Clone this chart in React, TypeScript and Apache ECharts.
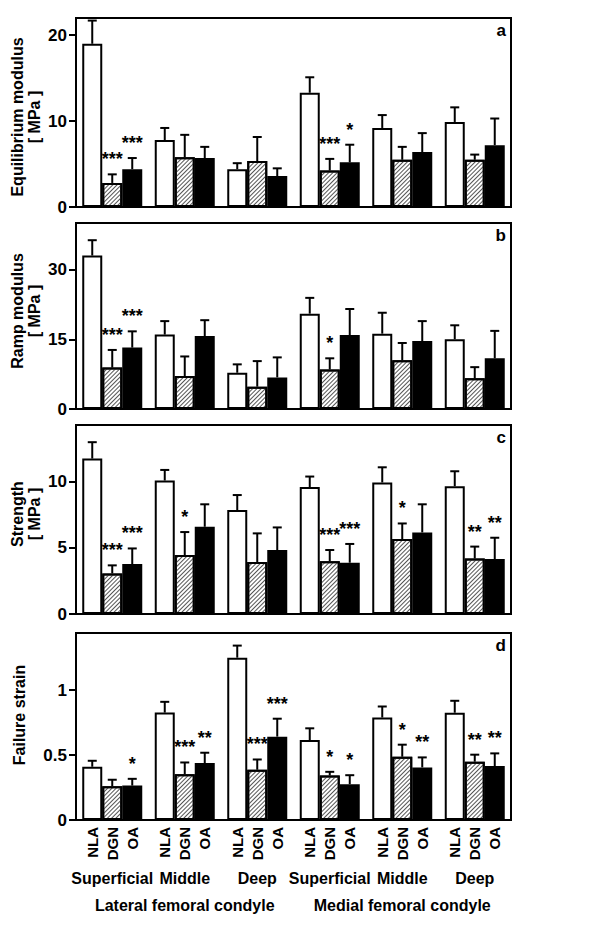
import React, { useEffect, useRef } from 'react';
import * as echarts from 'echarts';

// ---------- data ----------
const zones = ['Superficial', 'Middle', 'Deep', 'Superficial', 'Middle', 'Deep'];
const condyles = ['Lateral femoral condyle', 'Medial femoral condyle'];
const groupNames = ['NLA', 'DGN', 'OA'];

// a: Equilibrium modulus [MPa]
const eqNLA = [19.0, 7.8, 4.4, 13.3, 9.2, 9.9];
const eqNLASd = [2.7, 1.4, 0.7, 1.8, 1.5, 1.7];
const eqDGN = [2.8, 5.8, 5.35, 4.25, 5.5, 5.5];
const eqDGNSd = [1.0, 2.6, 2.8, 1.35, 1.5, 0.6];
const eqOA = [4.4, 5.7, 3.6, 5.2, 6.4, 7.2];
const eqOASd = [1.3, 1.3, 0.9, 2.05, 2.2, 3.1];
const eqDGNStars = ['***', '', '', '***', '', ''];
const eqOAStars = ['***', '', '', '*', '', ''];

// b: Ramp modulus [MPa]
const rampNLA = [33.0, 16.0, 7.8, 20.5, 16.2, 15.0];
const rampNLASd = [3.3, 2.9, 1.8, 3.4, 4.5, 3.0];
const rampDGN = [8.9, 7.1, 4.8, 8.5, 10.5, 6.6];
const rampDGNSd = [3.8, 4.2, 5.5, 2.4, 3.7, 2.4];
const rampOA = [13.2, 15.7, 6.8, 15.9, 14.6, 10.9];
const rampOASd = [3.5, 3.4, 4.3, 5.6, 4.3, 5.9];
const rampDGNStars = ['***', '', '', '*', '', ''];
const rampOAStars = ['***', '', '', '', '', ''];

// c: Strength [MPa]
const strNLA = [11.76, 10.1, 7.86, 9.6, 9.95, 9.67];
const strNLASd = [1.24, 0.8, 1.14, 0.8, 1.15, 1.13];
const strDGN = [3.07, 4.46, 3.93, 4.0, 5.67, 4.2];
const strDGNSd = [0.61, 1.74, 2.17, 0.84, 1.18, 0.9];
const strOA = [3.78, 6.6, 4.84, 3.88, 6.17, 4.16];
const strOASd = [1.18, 1.7, 1.71, 1.42, 2.13, 1.61];
const strDGNStars = ['***', '*', '', '***', '*', '**'];
const strOAStars = ['***', '', '', '***', '', '**'];

// d: Failure strain
const fsNLA = [0.41, 0.827, 1.25, 0.616, 0.789, 0.826];
const fsNLASd = [0.046, 0.083, 0.093, 0.09, 0.085, 0.092];
const fsDGN = [0.26, 0.353, 0.387, 0.343, 0.487, 0.449];
const fsDGNSd = [0.05, 0.09, 0.079, 0.028, 0.093, 0.054];
const fsOA = [0.265, 0.438, 0.642, 0.276, 0.405, 0.415];
const fsOASd = [0.052, 0.08, 0.138, 0.069, 0.077, 0.098];
const fsDGNStars = ['', '***', '***', '*', '*', '**'];
const fsOAStars = ['*', '**', '***', '*', '**', '**'];

const noStars = ['', '', '', '', '', ''];

const panelLetters = ['a', 'b', 'c', 'd'];
const panelTitles = ['Equilibrium modulus\n[ MPa ]', 'Ramp modulus\n[ MPa ]', 'Strength\n[ MPa ]', 'Failure strain'];
const panelMax = [22, 40, 14.3, 1.44];
const panelTicks = [[0, 10, 20], [0, 15, 30], [0, 5, 10], [0, 0.5, 1]];

const panelData = [
  { means: [eqNLA, eqDGN, eqOA], sds: [eqNLASd, eqDGNSd, eqOASd], stars: [noStars, eqDGNStars, eqOAStars] },
  { means: [rampNLA, rampDGN, rampOA], sds: [rampNLASd, rampDGNSd, rampOASd], stars: [noStars, rampDGNStars, rampOAStars] },
  { means: [strNLA, strDGN, strOA], sds: [strNLASd, strDGNSd, strOASd], stars: [noStars, strDGNStars, strOAStars] },
  { means: [fsNLA, fsDGN, fsOA], sds: [fsNLASd, fsDGNSd, fsOASd], stars: [noStars, fsDGNStars, fsOAStars] },
];

// ---------- layout ----------
const W = 602;
const H = 928;
const GRID_LEFT = 76;
const GRID_RIGHT = W - 511;
const panelTops = [18, 223, 425, 633];
const panelHeights = [189, 186, 189, 187];
const titleCenters = [
  [26, 117],
  [26, 311],
  [26, 514],
  [19, 715],
];
const BAR_W = 20;
const FONT = '"Liberation Sans", Arial, Helvetica, sans-serif';
const boldFont = (size: number) => `bold ${size}px ${FONT}`;

function buildOption() {
  const grid: any[] = [];
  const xAxis: any[] = [];
  const yAxis: any[] = [];
  const series: any[] = [];
  const graphic: any[] = [];

  panelData.forEach((pd, pi) => {
    grid.push({
      left: GRID_LEFT,
      right: GRID_RIGHT,
      top: panelTops[pi],
      height: panelHeights[pi],
      show: true,
      borderColor: '#000',
      borderWidth: 2,
      backgroundColor: 'transparent',
    });
    const isLast = pi === panelData.length - 1;
    xAxis.push({
      type: 'category',
      gridIndex: pi,
      data: zones,
      position: 'bottom',
      axisLine: { show: true, lineStyle: { color: '#000', width: 2 } },
      axisTick: { show: false },
      axisLabel: {
        show: isLast,
        interval: 0,
        margin: 50,
        color: '#000',
        fontFamily: FONT,
        fontWeight: 'bold',
        fontSize: 16,
      },
      splitLine: { show: false },
    });
    yAxis.push({
      type: 'value',
      gridIndex: pi,
      min: 0,
      max: panelMax[pi],
      axisLine: { show: true, lineStyle: { color: '#000', width: 2 } },
      axisTick: {
        show: true,
        length: 7,
        lineStyle: { color: '#000', width: 2 },
        customValues: panelTicks[pi],
      },
      axisLabel: {
        margin: 9,
        color: '#000',
        fontFamily: FONT,
        fontWeight: 'bold',
        fontSize: 17,
        customValues: panelTicks[pi],
      },
      splitLine: { show: false },
    });

    // bars
    groupNames.forEach((gn, si) => {
      const itemStyle: any = { borderColor: '#000', borderWidth: 2 };
      if (si === 0) itemStyle.color = '#fff';
      else if (si === 1) {
        itemStyle.color = '#fff';
        itemStyle.decal = {
          symbol: 'rect',
          symbolSize: 1,
          color: '#555',
          dashArrayX: [1, 0],
          dashArrayY: [1, 2],
          rotation: -Math.PI / 4,
        };
      } else itemStyle.color = '#000';
      series.push({
        type: 'bar',
        name: gn,
        xAxisIndex: pi,
        yAxisIndex: pi,
        data: pd.means[si],
        barWidth: BAR_W,
        barGap: '0%',
        itemStyle,
        emphasis: { disabled: true },
        z: 2,
      });
    });

    // error bars + significance stars
    const recs: any[] = [];
    for (let si = 0; si < 3; si++) {
      for (let g = 0; g < zones.length; g++) {
        recs.push({ g, s: si, mean: pd.means[si][g], sd: pd.sds[si][g], star: pd.stars[si][g] });
      }
    }
    series.push({
      type: 'custom',
      xAxisIndex: pi,
      yAxisIndex: pi,
      clip: false,
      z: 5,
      data: recs.map((r) => [r.g, r.mean, r.mean + r.sd]),
      encode: { x: 0, y: [1, 2] },
      renderItem: (params: any, api: any) => {
        const r = recs[params.dataIndex];
        const base = api.coord([r.g, r.mean]);
        const top = api.coord([r.g, r.mean + r.sd]);
        const x = base[0] + (r.s - 1) * BAR_W;
        const children: any[] = [
          { type: 'line', shape: { x1: x, y1: base[1], x2: x, y2: top[1] }, style: { stroke: '#000', lineWidth: 2 } },
          { type: 'line', shape: { x1: x - 4.5, y1: top[1], x2: x + 4.5, y2: top[1] }, style: { stroke: '#000', lineWidth: 2 } },
        ];
        if (r.star) {
          children.push({
            type: 'text',
            x,
            y: top[1] - 6,
            style: { text: r.star, fill: '#000', font: boldFont(18), align: 'center', verticalAlign: 'bottom' },
          });
        }
        return { type: 'group', children };
      },
    });

    // y-axis title
    graphic.push({
      type: 'text',
      x: titleCenters[pi][0],
      y: titleCenters[pi][1],
      rotation: Math.PI / 2,
      style: {
        text: panelTitles[pi],
        font: boldFont(16),
        fill: '#000',
        align: 'center',
        verticalAlign: 'middle',
        lineHeight: 17,
      },
    });
    // panel letter
    graphic.push({
      type: 'text',
      x: 506,
      y: panelTops[pi] + 4,
      style: { text: panelLetters[pi], font: boldFont(17), fill: '#000', align: 'right', verticalAlign: 'top' },
    });
  });

  // group-name labels under each bar of the last panel
  const lastIdx = panelData.length - 1;
  const labelRecs: any[] = [];
  for (let g = 0; g < zones.length; g++) {
    for (let si = 0; si < 3; si++) labelRecs.push({ g, s: si });
  }
  series.push({
    type: 'custom',
    xAxisIndex: lastIdx,
    yAxisIndex: lastIdx,
    clip: false,
    silent: true,
    data: labelRecs.map((r) => [r.g, 0]),
    encode: { x: 0, y: 1 },
    renderItem: (params: any, api: any) => {
      const r = labelRecs[params.dataIndex];
      const p = api.coord([r.g, 0]);
      const x = p[0] + (r.s - 1) * BAR_W;
      return {
        type: 'text',
        x,
        y: p[1] + 7,
        rotation: Math.PI / 2,
        style: { text: groupNames[r.s], font: boldFont(15), fill: '#000', align: 'right', verticalAlign: 'middle' },
      };
    },
  });

  // condyle labels
  xAxis.push({
    type: 'category',
    gridIndex: lastIdx,
    data: condyles,
    position: 'bottom',
    axisLine: { show: false },
    axisTick: { show: false },
    axisLabel: { interval: 0, margin: 77, color: '#000', fontFamily: FONT, fontWeight: 'bold', fontSize: 16 },
    splitLine: { show: false },
  });

  return {
    animation: false,
    backgroundColor: '#fff',
    textStyle: { fontFamily: FONT },
    grid,
    xAxis,
    yAxis,
    series,
    graphic,
  };
}

export default function App() {
  const ref = useRef<HTMLDivElement>(null);
  useEffect(() => {
    if (!ref.current) return;
    const chart = echarts.init(ref.current, undefined, { renderer: 'svg' });
    chart.setOption(buildOption() as any);
    return () => chart.dispose();
  }, []);
  return (
    <div
      ref={ref}
      style={{ position: 'fixed', left: 0, top: 0, width: W, height: H, background: '#fff' }}
    />
  );
}
